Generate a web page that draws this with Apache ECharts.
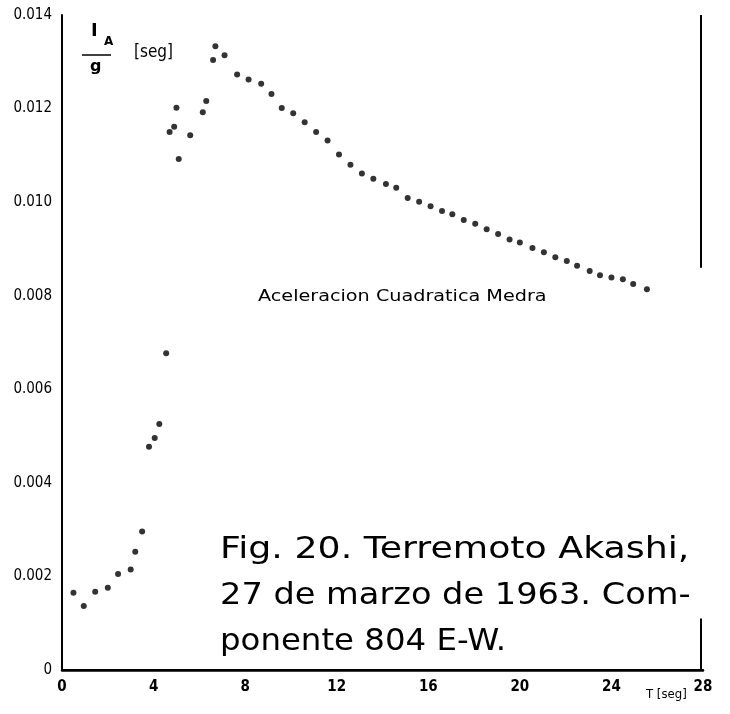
<!DOCTYPE html>
<html>
<head>
<meta charset="utf-8">
<script src="https://cdn.jsdelivr.net/npm/echarts@6/dist/echarts.min.js"></script>
<style>
  html, body { margin: 0; padding: 0; background: #fff; }
  #chart { width: 730px; height: 714px; }
</style>
</head>
<body>
<div id="chart"></div>
<script>
// periodo T [seg]
var periodo = [
  0.5, 0.95, 1.45, 2.0, 2.45, 3.0, 3.2, 3.5, 3.8, 4.05, 4.25, 4.55,
  4.7, 4.9, 5.0, 5.1, 5.6, 6.15, 6.3, 6.6, 6.7, 7.1,
  7.65, 8.15, 8.7, 9.15, 9.6, 10.1, 10.6, 11.1, 11.6, 12.1, 12.6, 13.1,
  13.6, 14.15, 14.6, 15.1, 15.6, 16.1, 16.6, 17.05, 17.55, 18.05, 18.55,
  19.05, 19.55, 20.0, 20.55, 21.05, 21.55, 22.05, 22.5, 23.05, 23.5,
  24.0, 24.5, 24.95, 25.55
];
// I_A / g [seg]
var aceleracion = [
  0.00165, 0.00137, 0.00167, 0.00176, 0.00205, 0.00215, 0.00253, 0.00296,
  0.00477, 0.00496, 0.00526, 0.00677,
  0.0115, 0.01161, 0.01202, 0.01092, 0.01143, 0.01192, 0.01216, 0.01304,
  0.01333, 0.01314,
  0.01273, 0.01262, 0.01253, 0.01231, 0.01201, 0.0119, 0.01171, 0.0115,
  0.01132, 0.01102, 0.0108, 0.01061, 0.0105, 0.01039, 0.01031, 0.01009,
  0.01001, 0.00991, 0.00981, 0.00974, 0.00962, 0.00954, 0.00942, 0.00932,
  0.0092, 0.00914, 0.00902, 0.00893, 0.00882, 0.00874, 0.00864, 0.00853,
  0.00844, 0.00839, 0.00835, 0.00825, 0.00814
];
var xTicks = [0, 4, 8, 12, 16, 20, 24, 28];
var yTicks = ['0', '0.002', '0.004', '0.006', '0.008', '0.010', '0.012', '0.014'];

var puntos = [];
for (var i = 0; i < periodo.length; i++) {
  puntos.push([periodo[i], aceleracion[i]]);
}

var fuente = 'DejaVu Sans Condensed';
var pie = '30px "DejaVu Sans"';

function texto(x, y, txt, font, sx) {
  return {
    type: 'text', x: x, y: y, scaleX: sx || 1,
    style: { text: txt, font: font, fill: '#000', verticalAlign: 'top' }
  };
}

var myChart = echarts.init(document.getElementById('chart'));
myChart.setOption({
  animation: false,
  backgroundColor: '#fff',
  grid: { left: 62, right: 27, top: 15, bottom: 44 },
  xAxis: [{
    type: 'value', min: 0, max: 28, interval: 4,
    axisLine: { show: true, onZero: false, lineStyle: { color: '#000', width: 2.5 } },
    axisTick: { show: false },
    splitLine: { show: false },
    axisLabel: {
      color: '#000', fontFamily: fuente, fontWeight: 'bold', fontSize: 15, margin: 10,
      formatter: function (v) { return xTicks.indexOf(v) >= 0 ? String(v) : ''; }
    }
  }, {
    type: 'value', min: 0, max: 28, position: 'top',
    axisLine: { show: true, lineStyle: { color: '#000', width: 2 } },
    axisTick: { show: false }, axisLabel: { show: false }, splitLine: { show: false }
  }],
  yAxis: {
    type: 'value', min: 0, max: 0.014, interval: 0.002,
    axisLine: { show: true, onZero: false, lineStyle: { color: '#000', width: 2 } },
    axisTick: { show: false },
    splitLine: { show: false },
    axisLabel: {
      color: '#000', fontFamily: fuente, fontSize: 15, margin: 10,
      formatter: function (v) { return yTicks[Math.round(v / 0.002)]; }
    }
  },
  series: [{
    type: 'scatter',
    data: puntos,
    symbol: 'circle',
    symbolSize: 6,
    itemStyle: { color: '#000' },
    markLine: {
      silent: true, symbol: 'none', label: { show: false },
      lineStyle: { color: '#000', width: 2, type: 'solid' },
      data: [
        [{ coord: [27.9, 0.014] }, { coord: [27.9, 0.0086] }],
        [{ coord: [27.9, 0.0011] }, { coord: [27.9, 0] }]
      ]
    }
  }],
  graphic: [
    texto(91, 22, 'I', 'bold 18px "DejaVu Sans"'),
    texto(104, 36, 'A', 'bold 12px "DejaVu Sans"'),
    { type: 'line', shape: { x1: 82, y1: 55, x2: 111, y2: 55 }, style: { stroke: '#000', lineWidth: 1.5 } },
    texto(90, 59, 'g', 'bold 16px "DejaVu Sans"'),
    texto(134, 44, '[seg]', '17px "DejaVu Sans Condensed"'),
    texto(258, 290, 'Aceleracion Cuadratica Medra', '15px "DejaVu Sans"', 1.28),
    texto(220, 535, 'Fig. 20. Terremoto Akashi,', pie, 1.21),
    texto(220, 581, '27 de marzo de 1963. Com-', pie, 1.12),
    texto(220, 627, 'ponente 804 E-W.', pie, 1.08),
    texto(646, 688, 'T [seg]', '13px "DejaVu Sans Condensed"')
  ]
});
</script>
</body>
</html>
